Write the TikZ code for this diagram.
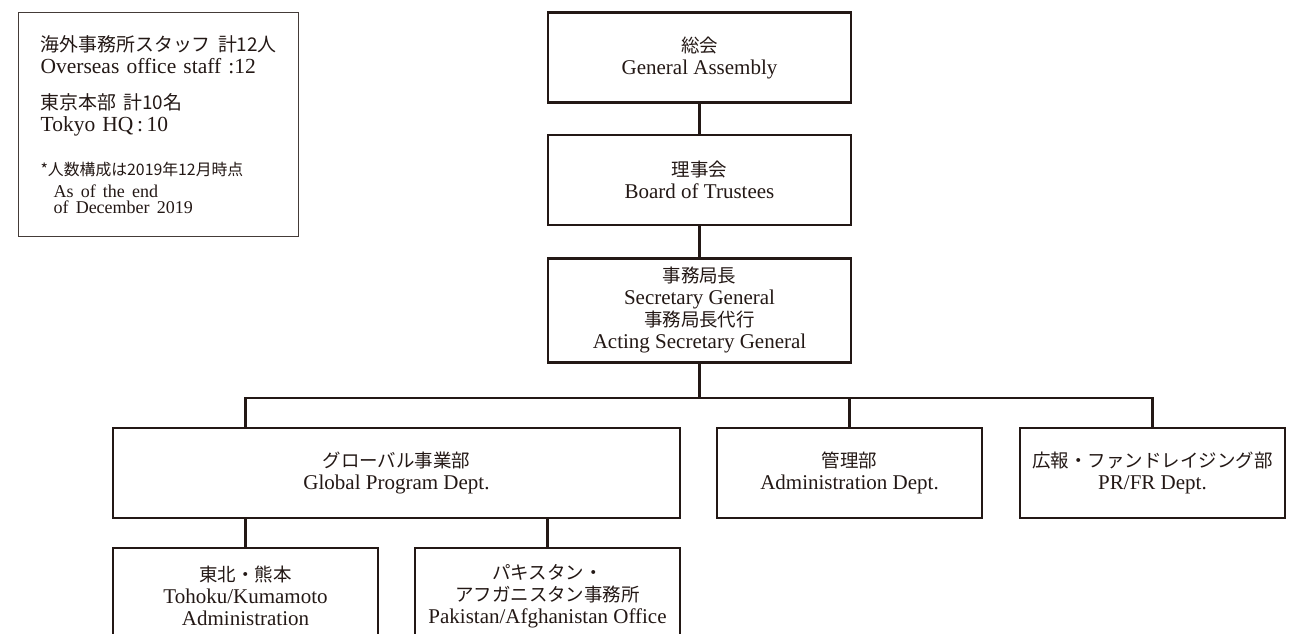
\documentclass[tikz,border=0pt]{standalone}
\usepackage{fontspec}
\setmainfont{Liberation Serif}
\newfontfamily\jpfont[Scale=0.88]{Noto Sans CJK JP}
\usepackage[dvipsnames]{xcolor}
\usepackage{tikz}
\usetikzlibrary{positioning, calc}
\definecolor{ink}{HTML}{231815}

\begin{document}
\begin{tikzpicture}[x=1pt, y=-1pt, color=ink,
  unit/.style={draw, line width=2.4pt, align=center, minimum width=265pt,
    minimum height=90pt, font=\fontsize{21}{22}\selectfont},
  link/.style={line width=2.4pt},
  note/.style={draw=ink!85, line width=1.2pt, align=left, text width=236pt,
    inner xsep=22pt, minimum height=224pt, font=\fontsize{21.5}{22}\selectfont}]
\useasboundingbox (0,0) rectangle (1293,634);
\clip (0,0) rectangle (1293,634);

\node[note, anchor=north west] (staff) at (18,12) {%
  {\jpfont 海外事務所スタッフ~計12人}\\
  Overseas office staff :12\\[14pt]
  {\jpfont 東京本部~計10名}\\
  Tokyo HQ\,:\,10\\[22pt]
  \fontsize{18}{22}\selectfont{\jpfont *人数構成は2019年12月時点}\\
  \hspace*{13pt}As of the end\\[-6pt]
  \hspace*{13pt}of December 2019};

\node[unit, minimum width=303pt] (ga) at (699.5,57.5) {{\jpfont 総会}\\General Assembly};
\node[unit, minimum width=303pt, below=30pt of ga] (bt) {{\jpfont 理事会}\\Board of Trustees};
\node[unit, minimum width=303pt, minimum height=104pt, below=31pt of bt] (sg)
  {{\jpfont 事務局長}\\Secretary General\\{\jpfont 事務局長代行}\\Acting Secretary General};

\node[unit, minimum width=567pt] (gp) at (396.5,473) {{\jpfont グローバル事業部}\\Global Program Dept.};
\node[unit] (ad) at (849.5,473) {{\jpfont 管理部}\\Administration Dept.};
\node[unit] (pr) at (1152.5,473) {{\jpfont 広報・ファンドレイジング部}\\PR/FR Dept.};

\node[unit, minimum height=96pt] (th) at (245.5,596)
  {{\jpfont 東北・熊本}\\Tohoku/Kumamoto\\Administration};
\node[unit, minimum height=96pt] (pk) at (547.5,596)
  {{\jpfont パキスタン・}\\{\jpfont アフガニスタン事務所}\\Pakistan/Afghanistan Office};

\coordinate (bus) at (699.5,398);
\draw[link] (ga) -- (bt);
\draw[link] (bt) -- (sg);
\draw[link] (sg) -- (bus);
\draw[link] (gp.north -| th) |- (bus) -| (pr);
\draw[link] (bus -| ad) -- (ad);
\draw[link] (gp.south -| th) -- (th);
\draw[link] (gp.south -| pk) -- (pk);
\end{tikzpicture}
\end{document}
